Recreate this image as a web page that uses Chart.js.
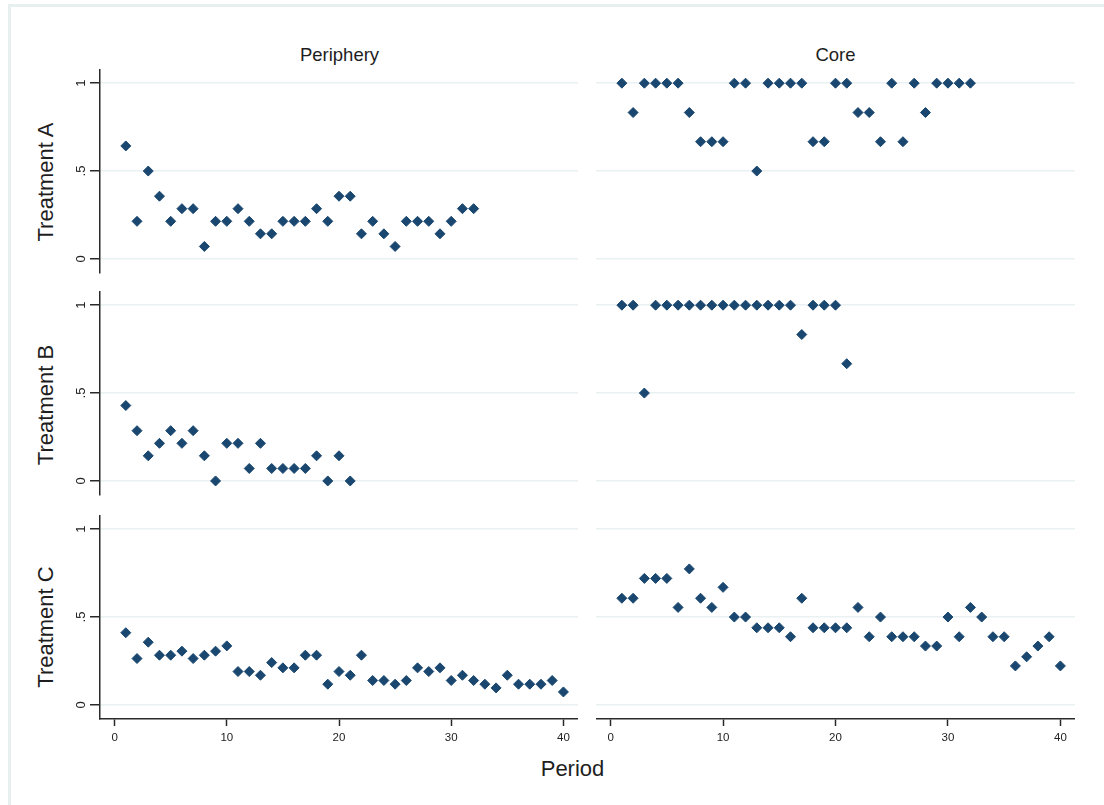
<!DOCTYPE html>
<html>
<head>
<meta charset="utf-8">
<script src="https://cdn.jsdelivr.net/npm/chart.js@4/dist/chart.umd.min.js"></script>
<style>
  html, body { margin: 0; padding: 0; background: #ffffff; }
  body { width: 1104px; height: 805px; overflow: hidden; position: relative;
         font-family: "Liberation Sans", Arial, sans-serif; }
  .frame { position: absolute; left: 8px; top: 4px; width: 1300px; height: 1000px;
           border-top: 3px solid #e8eff1; border-left: 3px solid #e8eff1; }
  canvas { position: absolute; }
  .t { position: absolute; color: #1e1e1e; white-space: nowrap; line-height: 1; }
  .rot { width: 300px; text-align: center; transform: translate(-50%, -50%) rotate(-90deg); }
  .ctr { transform: translateX(-50%); }
</style>
</head>
<body>
<div class="frame"></div>

<div class="t ctr" style="left:339.5px; top:46px; font-size:18.5px;">Periphery</div>
<div class="t ctr" style="left:835.5px; top:46px; font-size:18.5px;">Core</div>

<div class="t rot" style="left:45.5px; top:182px; font-size:22px;">Treatment A</div>
<div class="t rot" style="left:45.5px; top:405px; font-size:22px;">Treatment B</div>
<div class="t rot" style="left:45.5px; top:627px; font-size:22px;">Treatment C</div>

<div class="t ctr" style="left:572.5px; top:758px; font-size:22px;">Period</div>

<canvas id="pA" width="558" height="243" style="left:20px; top:50px;"></canvas>
<canvas id="cA" width="479" height="243" style="left:596px; top:50px;"></canvas>
<canvas id="pB" width="558" height="243" style="left:20px; top:272px;"></canvas>
<canvas id="cB" width="479" height="243" style="left:596px; top:272px;"></canvas>
<canvas id="pC" width="558" height="258" style="left:20px; top:496px;"></canvas>
<canvas id="cC" width="479" height="258" style="left:596px; top:496px;"></canvas>

<script>
// ---- data ----
const periods = [1,2,3,4,5,6,7,8,9,10,11,12,13,14,15,16,17,18,19,20,
                 21,22,23,24,25,26,27,28,29,30,31,32,33,34,35,36,37,38,39,40];

const peripheryA = [0.643,0.214,0.5,0.357,0.214,0.286,0.286,0.071,0.214,0.214,
                    0.286,0.214,0.143,0.143,0.214,0.214,0.214,0.286,0.214,0.357,
                    0.357,0.143,0.214,0.143,0.071,0.214,0.214,0.214,0.143,0.214,
                    0.286,0.286];
const coreA = [1,0.833,1,1,1,1,0.833,0.667,0.667,0.667,
               1,1,0.5,1,1,1,1,0.667,0.667,1,
               1,0.833,0.833,0.667,1,0.667,1,0.833,1,1,
               1,1];
const peripheryB = [0.429,0.286,0.143,0.214,0.286,0.214,0.286,0.143,0,0.214,
                    0.214,0.071,0.214,0.071,0.071,0.071,0.071,0.143,0,0.143,
                    0];
const coreB = [1,1,0.5,1,1,1,1,1,1,1,
               1,1,1,1,1,1,0.833,1,1,1,
               0.667];
const peripheryC = [0.411,0.264,0.357,0.283,0.283,0.306,0.264,0.283,0.306,0.336,
                    0.19,0.19,0.169,0.241,0.211,0.211,0.283,0.283,0.118,0.19,
                    0.169,0.283,0.139,0.139,0.118,0.139,0.211,0.19,0.211,0.139,
                    0.169,0.139,0.118,0.097,0.169,0.118,0.118,0.118,0.139,0.074];
const coreC = [0.607,0.607,0.72,0.72,0.72,0.555,0.774,0.607,0.555,0.669,
               0.5,0.5,0.439,0.439,0.439,0.388,0.607,0.439,0.439,0.439,
               0.439,0.555,0.388,0.5,0.388,0.388,0.388,0.335,0.335,0.5,
               0.388,0.555,0.5,0.388,0.388,0.222,0.274,0.335,0.388,0.222];

const yTickValues = [0, 0.5, 1];
const yTickLabels = ['0', '.5', '1'];
const xTickValues = [0, 10, 20, 30, 40];
const xTickLabels = ['0', '10', '20', '30', '40'];

// ---- styles ----
const MARKER = '#1a476f';
const GRID = '#e9f1f3';
const AXIS = '#2a2a2a';
const FONT = '"Liberation Sans", Arial, sans-serif';

function makePanel(id, values, showY, showX) {
  const pts = values.map((v, i) => ({ x: periods[i], y: v }));
  new Chart(document.getElementById(id), {
    type: 'scatter',
    data: { datasets: [{
      data: pts,
      pointStyle: 'rectRot',
      pointRadius: 5,
      pointHoverRadius: 5,
      borderWidth: 1,
      backgroundColor: MARKER,
      borderColor: MARKER,
      clip: false
    }]},
    options: {
      responsive: false,
      animation: false,
      devicePixelRatio: 1,
      events: [],
      layout: { autoPadding: false,
                padding: { top: 20, bottom: showX ? 0 : 20, left: 0, right: 0 } },
      plugins: { legend: { display: false }, tooltip: { enabled: false }, title: { display: false } },
      scales: {
        x: {
          type: 'linear',
          min: -1.3, max: 41.3,
          display: showX,
          afterBuildTicks: (a) => { a.ticks = xTickValues.map(v => ({ value: v })); },
          afterFit: (a) => { if (showX) a.height = 35; },
          grid: { drawOnChartArea: false, drawTicks: true, tickLength: 7,
                  tickColor: AXIS, tickWidth: 1.5 },
          border: { display: true, color: AXIS, width: 1.5 },
          ticks: {
            color: '#222', padding: 5, maxRotation: 0, minRotation: 0,
            font: { family: FONT, size: 11.5 },
            callback: (v) => { const k = xTickValues.indexOf(v); return k >= 0 ? xTickLabels[k] : ''; }
          }
        },
        y: {
          type: 'linear',
          min: -0.08, max: 1.075,
          afterBuildTicks: (a) => { a.ticks = yTickValues.map(v => ({ value: v })); },
          afterFit: (a) => { a.width = showY ? 80 : 0; },
          grid: { color: GRID, lineWidth: 1.5, drawTicks: showY, tickLength: 10,
                  tickColor: AXIS, tickWidth: 1.5 },
          border: { display: showY, color: AXIS, width: 1.5 },
          ticks: {
            display: showY,
            color: '#222',
            padding: 3,
            minRotation: 90, maxRotation: 90,
            crossAlign: 'center',
            font: { family: FONT, size: 13 },
            callback: (v) => { const k = yTickValues.indexOf(v); return k >= 0 ? yTickLabels[k] : ''; }
          }
        }
      }
    }
  });
}

makePanel('pA', peripheryA, true, false);
makePanel('cA', coreA, false, false);
makePanel('pB', peripheryB, true, false);
makePanel('cB', coreB, false, false);
makePanel('pC', peripheryC, true, true);
makePanel('cC', coreC, false, true);
</script>
</body>
</html>
